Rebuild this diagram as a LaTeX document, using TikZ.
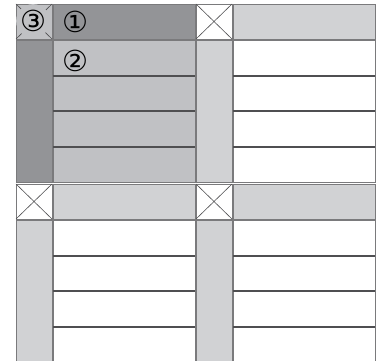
\documentclass[tikz,border=0pt]{standalone}
\usepackage{fontspec}
\newfontfamily\circfont{DejaVu Sans}
\definecolor{panelDark}{HTML}{939497}
\definecolor{panelMid}{HTML}{C0C1C4}
\definecolor{panelLight}{HTML}{D1D2D4}
\definecolor{edgeGray}{HTML}{7A7A7C}
\definecolor{rowGray}{HTML}{4F4F51}
\tikzset{
  cellbox/.style={draw=edgeGray, line width=0.8pt},
  crossline/.style={draw=rowGray, line width=0.6pt},
  rowline/.style={draw=rowGray, line width=1.3pt},
  numlabel/.style={font=\circfont\fontsize{29}{29}\selectfont, inner sep=0pt}
}
\begin{document}
\begin{tikzpicture}[x=1pt,y=-1pt,line cap=butt]
  \useasboundingbox (0,0) rectangle (381,361);
  \clip (0,0) rectangle (381,361);
  \fill[white] (0,0) rectangle (381,361);
  \foreach \row/\col/\boxc/\headc/\sidec/\cellc in {
    0/0/panelMid/panelDark/panelDark/panelMid,
    0/1/white/panelLight/panelLight/white,
    1/0/white/panelLight/panelLight/white,
    1/1/white/panelLight/panelLight/white} {
    \begin{scope}[xshift=16pt+\col*180pt, yshift=-4pt-\row*180pt]
      \filldraw[cellbox, fill=\boxc] (0,0) rectangle (36,35);
      \draw[crossline] (0,0) -- (36,35) (0,35) -- (36,0);
      \filldraw[cellbox, fill=\headc] (37,0) rectangle (179,35);
      \filldraw[cellbox, fill=\sidec] (0,36) rectangle (36,178);
      \filldraw[cellbox, fill=\cellc] (37,36) rectangle (179,178);
      \foreach \y in {72,107,143}
        \draw[rowline] (37,\y) -- (179,\y);
    \end{scope}
  }
  % circled numbers
  \node[numlabel, circle, fill=panelMid] (three) at (33,21) {③};
  \node[numlabel, anchor=west] (one) at (62,22) {①};
  \node[numlabel, anchor=west] (two) at (62,61) {②};
\end{tikzpicture}
\end{document}
